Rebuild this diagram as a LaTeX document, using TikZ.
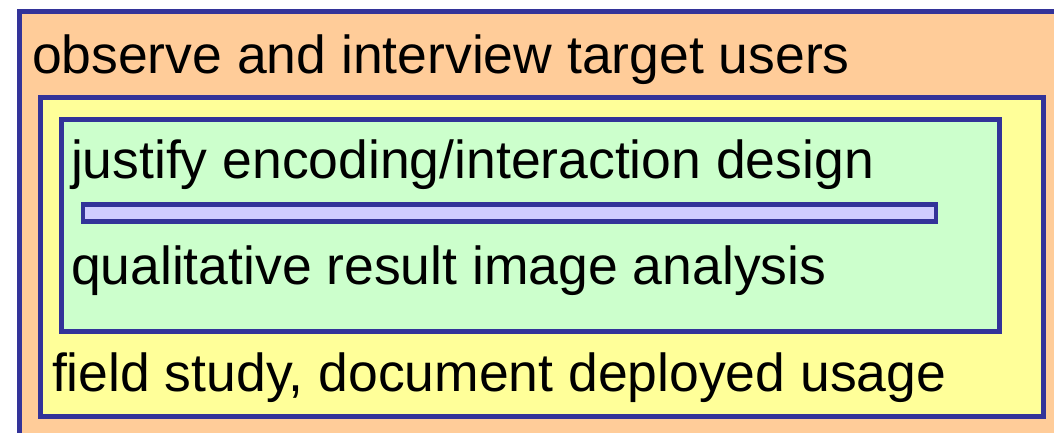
\documentclass[tikz,border=0pt]{standalone}
\usepackage{fontspec}
\setmainfont{Liberation Sans}
\usetikzlibrary{positioning}
\definecolor{frameblue}{RGB}{51,51,153}
\definecolor{outerfill}{RGB}{255,204,153}
\definecolor{fieldfill}{RGB}{255,255,153}
\definecolor{labfill}{RGB}{204,255,204}
\definecolor{barfill}{RGB}{208,204,255}
\tikzset{
  base/.style={font=\fontsize{53.5}{60}\selectfont, inner sep=0pt, outer sep=0mm, anchor=base west},
  layer/.style={draw=frameblue, line width=5pt},
  lbl/.style={base, text=black}
}

\begin{document}
\begin{tikzpicture}[x=1pt, y=-1pt]
  \useasboundingbox (0,0) rectangle (1054,433);
  \clip (0,0) rectangle (1054,433);

  % nested layers
  \draw[layer, fill=outerfill] (19,11.5) rectangle (1090,470);
  \draw[layer, fill=fieldfill] (40,98) rectangle (1043,416);
  \draw[layer, fill=labfill] (61,119.5) rectangle (999.5,331);
  \draw[layer, line width=4.5pt, fill=barfill] (83,204.5) rectangle (936,221.5);

  % labels
  \node[lbl] (observe) at (32,74) {observe and interview target users};
  \node[lbl] (justify) at (71,178) {justify encoding/interaction design};
  \node[lbl] (qual) at (71,284) {qualitative result image analysis};
  \node[lbl] (field) at (52,391) {field study, document deployed usage};
\end{tikzpicture}
\end{document}
